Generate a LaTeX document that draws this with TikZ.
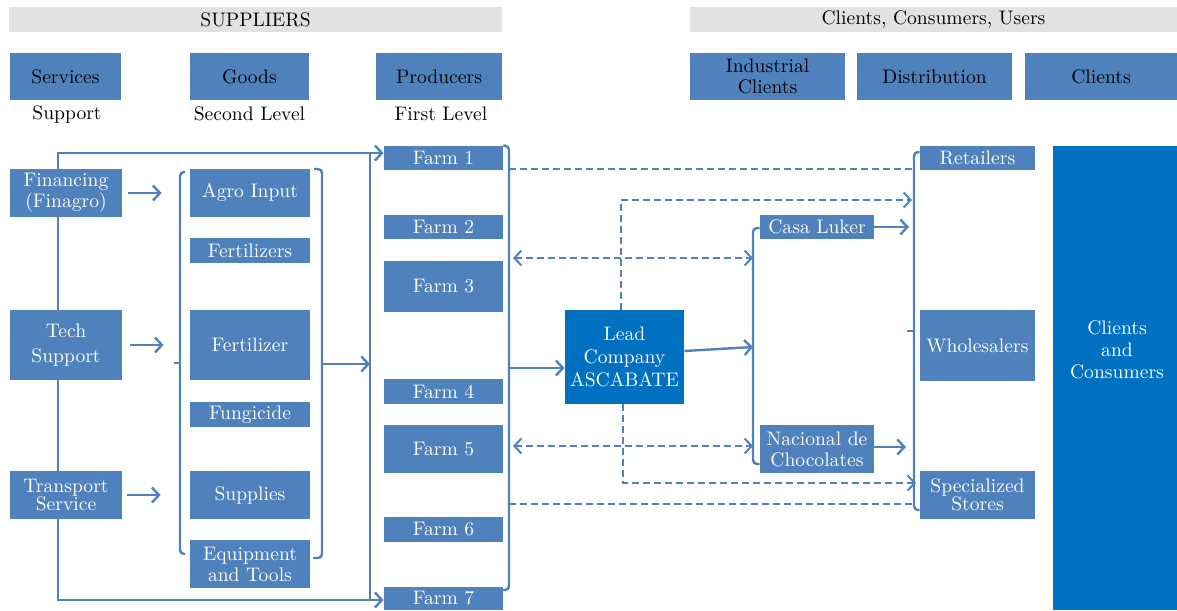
\documentclass[tikz,border=0pt]{standalone}
\usetikzlibrary{arrows.meta,calc,backgrounds}
\definecolor{boxblue}{HTML}{4F81BD}
\definecolor{leadblue}{HTML}{0070C0}
\definecolor{bargray}{HTML}{E2E2E2}

\begin{document}
\begin{tikzpicture}[x=0.5pt,y=-0.5pt,font=\fontsize{9.8}{10.5}\selectfont,
	>={Straight Barb[length=3.5pt,width=7.5pt]},
	sz/.style 2 args={minimum width=#1*0.5pt,minimum height=#2*0.5pt},
	bar/.style={fill=bargray,inner sep=0pt},
	head/.style={fill=boxblue,inner sep=0pt,align=center},
	box/.style={fill=boxblue,text=white,inner sep=0pt,align=center},
	link/.style={draw=boxblue,line width=1.2pt},
	dlink/.style={draw=boxblue,line width=1pt,dash pattern=on 3.5pt off 2pt}]
	\useasboundingbox (0,0) rectangle (1177,610);
	% headings
	\node[bar,sz={493}{25}] (suppliers) at (255.5,19.5) {SUPPLIERS};
	\node[bar,sz={487}{25}] (users) at (933.5,19.5) {Clients, Consumers, Users};
	\node[head,sz={111}{47}] (services) at (65.5,76.5) {Services};
	\node[head,sz={119}{47}] (goods) at (249.5,76.5) {Goods};
	\node[head,sz={126}{47}] (producers) at (439,76.5) {Producers};
	\node[head,sz={155}{47}] (industrial) at (767.5,76.5) {Industrial\\Clients};
	\node[head,sz={155}{47}] (distribution) at (934.5,76.5) {Distribution};
	\node[head,sz={152}{47}] (clients) at (1101,76.5) {Clients};
	\node (support) at (67,114) {Support};
	\node (second) at (249.5,114) {Second Level};
	\node (first) at (441,114) {First Level};
	% services and goods
	\node[box,sz={112}{48}] (financing) at (66,193) {Financing\\(Finagro)};
	\node[box,sz={112}{70}] (tech) at (66,345) {Tech\\[2pt]Support};
	\node[box,sz={112}{48}] (transport) at (66,495) {Transport\\[-1.5pt]Service};
	\node[box,sz={120}{48}] (agro) at (250,193) {Agro Input};
	\node[box,sz={120}{25}] (fertilizers) at (250,250.5) {Fertilizers};
	\node[box,sz={120}{70}] (fertilizer) at (250,345) {Fertilizer};
	\node[box,sz={120}{25}] (fungicide) at (250,414.5) {Fungicide};
	\node[box,sz={120}{48}] (supplies) at (250,495) {Supplies};
	\node[box,sz={120}{48}] (equipment) at (250,564) {Equipment\\and Tools};
	% farms
	\foreach \i/\y/\h in {1/158/24,2/227/24,3/286.5/51,4/391.5/25,5/449/48,6/529.5/25,7/598.5/23}
		\node[box,sz={119}{\h}] (farm\i) at (443.5,\y) {Farm \i};
	\node[box,fill=leadblue,sz={119}{94}] (lead) at (624.5,357) {Lead\\[1pt]Company\\[1pt]ASCABATE};
	% clients side
	\node[box,sz={114}{24}] (casa) at (817,227) {Casa Luker};
	\node[box,sz={114}{48}] (nacional) at (817,449) {Nacional de\\Chocolates};
	\node[box,sz={115}{24}] (retailers) at (977.5,158) {Retailers};
	\node[box,sz={115}{71}] (wholesalers) at (977.5,345.5) {Wholesalers};
	\node[box,sz={115}{48}] (specialized) at (977.5,495) {Specialized\\[-1.5pt]Stores};
	\node[fill=leadblue,inner sep=0pt,sz={124}{464}] (consumers) at (1115,378) {};
	\node[text=white,align=center] (consumerstext) at (1117,350) {Clients\\[0.5pt]and\\[0.5pt]Consumers};

	\begin{scope}[on background layer]
	\coordinate (svctop) at (58,153);
	\coordinate (svcbot) at (58,600);
	\coordinate (fleft) at (370,0);
	\coordinate (fbar) at (509,0);
	\coordinate (ibar) at (753,0);
	\coordinate (dbar) at (914,0);
	\draw[link,<->] (svctop -| farm1.west) -- (svctop) -- (svcbot) -- (svcbot -| farm7.west);
	\draw[link] (fleft |- svctop) -- (fleft |- svcbot);
	\draw[link,->] ($(financing.east)+(6,0)$) -- ($(agro.west)+(-28,0)$);
	\draw[link,->] ($(tech.east)+(8,0)$) -- ($(fertilizer.west)+(-26,0)$);
	\draw[link,->] ($(transport.east)+(5,0)$) -- ($(supplies.west)+(-29,0)$);
	% goods brackets
	\draw[link,rounded corners=2pt] (185,172) -- (180,172) -- (180,554) -- (185,554);
	\draw[link] (174,363) -- (180,363);
	\draw[link,rounded corners=2pt] (314,169) -- (322,169) -- (322,558) -- (313,558);
	\draw[link,->] (322,364) -- (fleft |- 0,364);
	% farms to lead company
	\draw[link,rounded corners=2pt] (farm1.north east) -- (fbar |- 0,146) -- (fbar |- 0,590) -- (503,590);
	\draw[link,->] (fbar |- 0,368) -- (lead.west |- 0,368);
	\draw[link,->] ($(lead.east)+(0,-6)$) -- (ibar |- 0,347);
	\draw[link,rounded corners=2pt] (casa.west |- 0,228) -- (ibar |- 0,228) -- (ibar |- 0,464) -- (nacional.west |- 0,464);
	\draw[link,->] (casa.east) -- ($(dbar |- casa.east)+(-5,0)$);
	\draw[link,->] (nacional.east |- 0,447) -- ($(dbar |- 0,447)+(-8,0)$);
	\draw[link,rounded corners=2pt] (retailers.west |- 0,152) -- (dbar |- 0,152) -- (dbar |- 0,510) -- (specialized.west |- 0,510);
	\draw[link] (907,331) -- (dbar |- 0,331);
	% dashed flows
	\draw[dlink] (fbar |- 0,169) -- (dbar |- 0,169);
	\draw[dlink,->] ($(lead.north)+(-4,0)$) |- ($(dbar |- 0,200)+(-2,0)$);
	\draw[dlink,<->] ($(fbar |- 0,258)+(4,0)$) -- (ibar |- 0,258);
	\draw[dlink,<->] ($(fbar |- 0,446)+(4,0)$) -- (ibar |- 0,446);
	\draw[dlink,->] ($(lead.south)+(-2,0)$) |- ($(dbar |- 0,483)+(2,0)$);
	\draw[dlink] (fbar |- 0,504) -- (dbar |- 0,504);
	\end{scope}
\end{tikzpicture}
\end{document}
